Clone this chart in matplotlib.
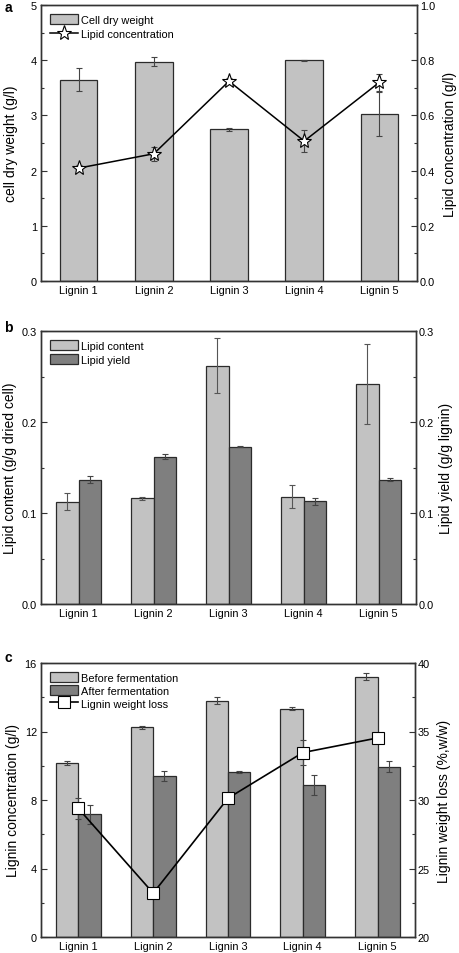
import matplotlib
matplotlib.use("Agg")
import matplotlib.pyplot as plt
from matplotlib.ticker import MultipleLocator, FormatStrFormatter
import numpy as np

plt.rcParams['font.family'] = ['Liberation Sans', 'DejaVu Sans']

categories = ["Lignin 1", "Lignin 2", "Lignin 3", "Lignin 4", "Lignin 5"]

# Panel a
cell_dry_weight = [3.65, 3.97, 2.75, 4.00, 3.02]
cell_dry_weight_err = [0.20, 0.08, 0.03, 0.01, 0.40]
lipid_conc = [0.409, 0.461, 0.724, 0.507, 0.720]
lipid_conc_err = [0.012, 0.025, 0.010, 0.040, 0.030]

# Panel b
lipid_content = [0.1125, 0.116, 0.262, 0.118, 0.2415]
lipid_content_err = [0.009, 0.002, 0.030, 0.013, 0.044]
lipid_yield = [0.1367, 0.162, 0.173, 0.113, 0.1367]
lipid_yield_err = [0.004, 0.003, 0.001, 0.004, 0.002]

# Panel c
lignin_before = [10.17, 12.25, 13.80, 13.33, 15.20]
lignin_before_err = [0.10, 0.10, 0.20, 0.10, 0.20]
lignin_after = [7.17, 9.41, 9.62, 8.88, 9.95]
lignin_after_err = [0.55, 0.30, 0.05, 0.60, 0.30]
weight_loss = [29.38, 23.20, 30.13, 33.46, 34.53]
weight_loss_err = [0.75, 0.15, 0.25, 0.90, 0.20]

LIGHT = '#c2c2c2'
DARK = '#7f7f7f'
EDGE = '#2b2b2b'
ERR = '#444444'
FS_TICK = 7.9
FS_LAB = 10

fig = plt.figure(figsize=(4.59, 9.54), dpi=100)

x = np.arange(len(categories))

LEG = dict(frameon=False, fontsize=FS_TICK, handlelength=2.5, handleheight=1.0,
           handletextpad=0.3, borderaxespad=0.55, borderpad=0.3, loc='upper left')


def style(ax, axr):
    for a in (ax, axr):
        for s in a.spines.values():
            s.set_linewidth(1.0)
            s.set_color('#333333')
    ax.tick_params(axis='both', which='both', direction='in', labelsize=FS_TICK,
                   color='#333333')
    ax.tick_params(axis='y', which='major', length=4, width=0.8, pad=3)
    ax.tick_params(axis='y', which='minor', length=2, width=0.8)
    ax.tick_params(axis='x', which='major', length=3, width=0.8, pad=3)
    axr.tick_params(axis='y', which='both', direction='in', labelsize=FS_TICK,
                    color='#333333', pad=2)
    axr.tick_params(axis='y', which='major', length=4, width=0.8)
    axr.tick_params(axis='y', which='minor', length=2, width=0.8)
    ax.set_xticks(x)
    ax.set_xticklabels(categories)
    ax.set_xlim(-0.5, 4.5)


# ---------------- Panel a ----------------
ax1 = fig.add_axes([41/459, 1-282/954, 376/459, 276/954])
ax1r = ax1.twinx()
b1 = ax1.bar(x, cell_dry_weight, width=0.5, color=LIGHT, edgecolor=EDGE, linewidth=0.9,
             label='Cell dry weight', zorder=2)
ax1.errorbar(x, cell_dry_weight, yerr=cell_dry_weight_err, fmt='none', ecolor=ERR,
             elinewidth=0.8, capsize=2.5, capthick=0.8, zorder=3)
l1, = ax1r.plot(x, lipid_conc, color='black', lw=1.1, marker='*', markersize=11,
                markerfacecolor='white', markeredgecolor='black', markeredgewidth=0.8,
                label='Lipid concentration', zorder=4)
ax1r.errorbar(x, lipid_conc, yerr=lipid_conc_err, fmt='none', ecolor=ERR,
              elinewidth=0.8, capsize=2.5, capthick=0.8, zorder=3)
ax1.set_ylim(0, 5)
ax1.yaxis.set_major_locator(MultipleLocator(1))
ax1.yaxis.set_minor_locator(MultipleLocator(0.5))
ax1r.set_ylim(0, 1.0)
ax1r.yaxis.set_major_locator(MultipleLocator(0.2))
ax1r.yaxis.set_minor_locator(MultipleLocator(0.1))
ax1r.yaxis.set_major_formatter(FormatStrFormatter('%.1f'))
style(ax1, ax1r)
ax1.set_ylabel('cell dry weight (g/l)', fontsize=FS_LAB)
ax1r.set_ylabel('Lipid concentration (g/l)', fontsize=FS_LAB)
ax1.yaxis.set_label_coords(-0.062, 0.5)
ax1r.yaxis.set_label_coords(1.07, 0.5)
ax1r.legend([b1, l1], ['Cell dry weight', 'Lipid concentration'], labelspacing=0.3, **LEG)
fig.text(8/459, 1-8/954, 'a', fontsize=10, fontweight='bold', va='center', ha='center')

# ---------------- Panel b ----------------
ax2 = fig.add_axes([41/459, 1-605/954, 375/459, 273/954])
ax2r = ax2.twinx()
w = 0.3
b2a = ax2.bar(x - w/2, lipid_content, width=w, color=LIGHT, edgecolor=EDGE, linewidth=0.9,
              zorder=2)
b2b = ax2.bar(x + w/2, lipid_yield, width=w, color=DARK, edgecolor=EDGE, linewidth=0.9,
              zorder=2)
ax2.errorbar(x - w/2, lipid_content, yerr=lipid_content_err, fmt='none', ecolor='#555555',
             elinewidth=0.8, capsize=2.5, capthick=0.8, zorder=3)
ax2.errorbar(x + w/2, lipid_yield, yerr=lipid_yield_err, fmt='none', ecolor=ERR,
             elinewidth=0.8, capsize=2.5, capthick=0.8, zorder=3)
ax2.set_ylim(0, 0.3)
ax2.yaxis.set_major_locator(MultipleLocator(0.1))
ax2.yaxis.set_minor_locator(MultipleLocator(0.05))
ax2.yaxis.set_major_formatter(FormatStrFormatter('%.1f'))
ax2r.set_ylim(0, 0.3)
ax2r.yaxis.set_major_locator(MultipleLocator(0.1))
ax2r.yaxis.set_minor_locator(MultipleLocator(0.05))
ax2r.yaxis.set_major_formatter(FormatStrFormatter('%.1f'))
style(ax2, ax2r)
ax2.set_ylabel('Lipid content (g/g dried cell)', fontsize=FS_LAB)
ax2r.set_ylabel('Lipid yield (g/g lignin)', fontsize=FS_LAB)
ax2.yaxis.set_label_coords(-0.065, 0.5)
ax2r.yaxis.set_label_coords(1.06, 0.5)
ax2.legend([b2a, b2b], ['Lipid content', 'Lipid yield'], labelspacing=0.3, **LEG)
fig.text(8/459, 1-328/954, 'b', fontsize=10, fontweight='bold', va='center', ha='center')

# ---------------- Panel c ----------------
ax3 = fig.add_axes([41/459, 1-938/954, 374/459, 274/954])
ax3r = ax3.twinx()
b3a = ax3.bar(x - w/2, lignin_before, width=w, color=LIGHT, edgecolor=EDGE, linewidth=0.9,
              zorder=2)
b3b = ax3.bar(x + w/2, lignin_after, width=w, color=DARK, edgecolor=EDGE, linewidth=0.9,
              zorder=2)
ax3.errorbar(x - w/2, lignin_before, yerr=lignin_before_err, fmt='none', ecolor=ERR,
             elinewidth=0.8, capsize=2.5, capthick=0.8, zorder=3)
ax3.errorbar(x + w/2, lignin_after, yerr=lignin_after_err, fmt='none', ecolor=ERR,
             elinewidth=0.8, capsize=2.5, capthick=0.8, zorder=3)
ax3r.errorbar(x, weight_loss, yerr=weight_loss_err, fmt='none', ecolor=ERR,
              elinewidth=0.8, capsize=2.5, capthick=0.8, zorder=3)
l3, = ax3r.plot(x, weight_loss, color='black', lw=1.2, marker='s', markersize=8,
                markerfacecolor='white', markeredgecolor='black', markeredgewidth=0.8,
                zorder=4)
ax3.set_ylim(0, 16)
ax3.yaxis.set_major_locator(MultipleLocator(4))
ax3.yaxis.set_minor_locator(MultipleLocator(2))
ax3r.set_ylim(20, 40)
ax3r.yaxis.set_major_locator(MultipleLocator(5))
ax3r.yaxis.set_minor_locator(MultipleLocator(2.5))
style(ax3, ax3r)
ax3.set_ylabel('Lignin concentration (g/l)', fontsize=FS_LAB)
ax3r.set_ylabel('Lignin weight loss (%,w/w)', fontsize=FS_LAB)
ax3.yaxis.set_label_coords(-0.055, 0.5)
ax3r.yaxis.set_label_coords(1.06, 0.5)
ax3r.legend([b3a, b3b, l3], ['Before fermentation', 'After fermentation', 'Lignin weight loss'],
            labelspacing=0.2, **LEG)
fig.text(8/459, 1-658/954, 'c', fontsize=10, fontweight='bold', va='center', ha='center')

fig.savefig('out.png', dpi=100)
